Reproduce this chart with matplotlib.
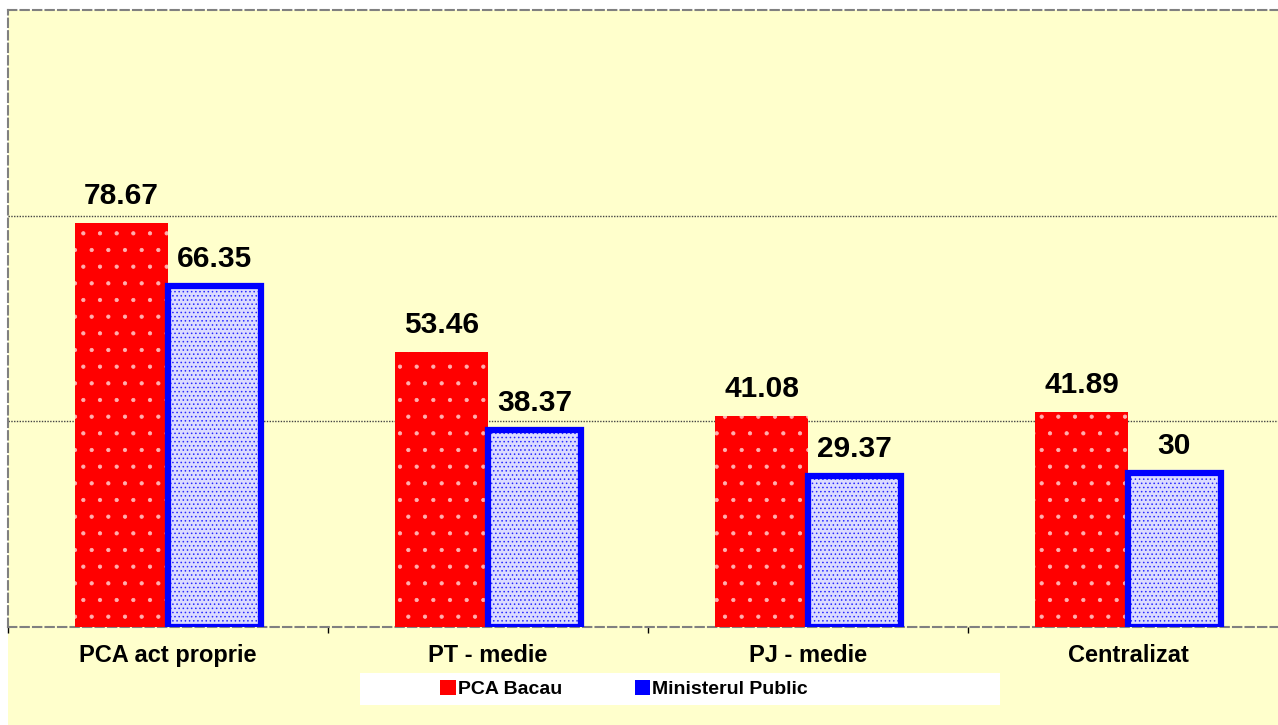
import matplotlib.pyplot as plt
import numpy as np
from matplotlib.patches import Rectangle, Patch

# date
categorii = ["PCA act proprie", "PT - medie", "PJ - medie", "Centralizat"]
pca_bacau = [78.67, 53.46, 41.08, 41.89]
ministerul_public = [66.35, 38.37, 29.37, 30]
etichete_pca = ["78.67", "53.46", "41.08", "41.89"]
etichete_mp = ["66.35", "38.37", "29.37", "30"]
serii = ["PCA Bacau", "Ministerul Public"]

plt.rcParams["font.family"] = ["Liberation Sans", "DejaVu Sans"]
plt.rcParams["hatch.linewidth"] = 0.6

W, H = 1278, 725
fig = plt.figure(figsize=(W / 100, H / 100), dpi=100, facecolor="white")

# fundal galben (fara banda alba de sus si din stanga)
fig.patches.append(Rectangle((8 / W, 0), 1, 1 - 10 / H, transform=fig.transFigure,
                             facecolor="#FFFFCC", edgecolor="none", zorder=-10))

ax = fig.add_axes([8 / W, 1 - 627 / H, 1 - 8 / W, (627 - 10) / H])
ax.set_facecolor("#FFFFCC")

x = np.arange(len(categorii))
lat = 0.29
dx = 0.145

# bare rosii cu puncte albe
ax.bar(x - dx, pca_bacau, lat, color="red", edgecolor="none", zorder=3)
ax.bar(x - dx, pca_bacau, lat, color="none", edgecolor="#FFB0B0", hatch=".",
       linewidth=0, zorder=4)

# bare albastre, margine groasa
ax.bar(x + dx, ministerul_public, lat, color="#DCDCFF", edgecolor="none", zorder=3)
ax.bar(x + dx, ministerul_public, lat, color="none", edgecolor="#2828FF",
       hatch="....", linewidth=0, zorder=4)
ax.bar(x + dx, ministerul_public, lat, color="none", edgecolor="blue",
       linewidth=4.5, zorder=5)

for i in range(len(categorii)):
    ax.text(x[i] - dx, pca_bacau[i] + 2.5, etichete_pca[i], ha="center", va="bottom",
            fontsize=21.5, fontweight="bold", zorder=6)
    ax.text(x[i] + dx, ministerul_public[i] + 2.5, etichete_mp[i], ha="center",
            va="bottom", fontsize=21.5, fontweight="bold", zorder=6)

ax.set_xlim(-0.5, -0.5 + (W - 8) / 320)
ax.set_ylim(0, 120)

# axe
ax.set_xticks(np.arange(len(categorii)) - 0.5)
ax.set_xticklabels([])
ax.tick_params(axis="x", which="major", length=4.5, width=1, color="black",
               direction="out")
ax.set_xticks(x, minor=True)
ax.set_xticklabels(categorii, minor=True, fontsize=17, fontweight="bold")
ax.tick_params(axis="x", which="minor", length=0, pad=12)

ax.set_yticks([40, 80])
ax.set_yticklabels([])
ax.tick_params(axis="y", length=0)
ax.yaxis.grid(True, color="#444444", linestyle=(0, (1, 1)), linewidth=1)
ax.set_axisbelow(True)

for s in ["top", "left", "bottom"]:
    ax.spines[s].set_color("#808080")
    ax.spines[s].set_linestyle((0, (4, 2)))
    ax.spines[s].set_linewidth(1.5)
ax.spines["right"].set_visible(False)

# legenda pe fundal alb
fig.patches.append(Rectangle((360 / W, 1 - 705 / H), 640 / W, 32 / H,
                             transform=fig.transFigure, facecolor="white",
                             edgecolor="none", zorder=1))
handles = [Patch(facecolor="red", edgecolor="none", label=serii[0]),
           Patch(facecolor="blue", edgecolor="none", label=serii[1])]
leg = fig.legend(handles=handles, loc="center", bbox_to_anchor=(624 / W, 1 - 689 / H),
                 ncol=2, frameon=False, handlelength=0.8, handleheight=0.8,
                 handletextpad=0.1, columnspacing=3.75,
                 prop={"weight": "bold", "size": 14})

fig.savefig("out.png", dpi=100, facecolor=fig.get_facecolor())
